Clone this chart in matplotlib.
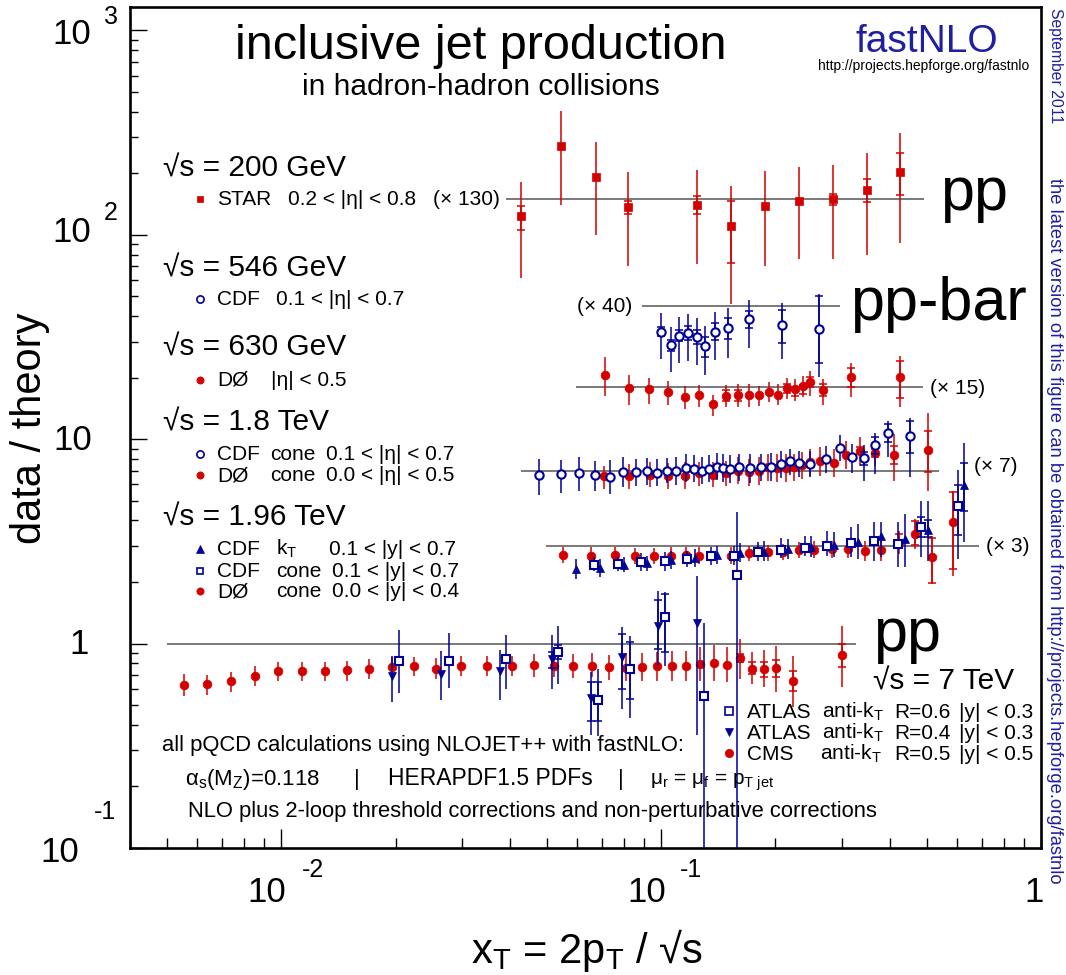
import numpy as np
import matplotlib
matplotlib.use("Agg")
import matplotlib.pyplot as plt
from matplotlib.ticker import LogLocator, NullFormatter
from matplotlib import font_manager

# ---------------- data (values as plotted on the axis) ----------------
# STAR 200 GeV (x130)
star_x = [0.0427, 0.0546, 0.0673, 0.0819, 0.1243, 0.1527, 0.1875, 0.2302, 0.2827, 0.3473, 0.4266]
star_y = [122.9, 272, 192, 137, 140, 110.7, 138.8, 146.5, 150, 166, 203]
star_hi = [181.6, 404, 285, 203, 208, 173.6, 206, 215, 220, 252, 315]
star_lo = [61.6, 140, 100, 70.5, 72, 46, 70.5, 76.3, 76.3, 79.8, 91.5]
star_shi = [138, np.nan, np.nan, 147, 155, 147, np.nan, np.nan, 158, 188, 251]
star_slo = [106, np.nan, np.nan, 126, 126, 73, np.nan, np.nan, 140, 144, 156]

# CDF 546 GeV (x40)
cdf546_x = [0.0998, 0.1060, 0.1117, 0.1179, 0.1246, 0.1307, 0.1386, 0.1502, 0.1702, 0.2078, 0.2610]
cdf546_y = [33.6, 29.0, 32.1, 32.9, 31.7, 28.7, 33.6, 34.8, 38.5, 36.2, 34.4]
cdf546_hi = [41.2, 35.5, 39.4, 41.1, 39.3, 35.9, 41.7, 44.0, 48.1, 46.1, 51.5]
cdf546_lo = [24.7, 21.2, 23.5, 24.0, 23.1, 20.7, 24.5, 25.0, 28.0, 24.8, 20.2]
cdf546_shi = [35.2, 30.6, 34.2, 35.8, 34.2, 31.5, 36.8, 39.0, 42.2, 43.0, 50.3]
cdf546_slo = [31.8, 27.1, 30.1, 30.6, 29.2, 25.3, 30.6, 30.9, 34.8, 29.4, 23.5]

# D0 630 GeV (x15)
d0630_x = [0.0712, 0.0823, 0.0930, 0.1041, 0.1154, 0.1260, 0.1372, 0.1482, 0.1592, 0.1702,
           0.1811, 0.1920, 0.2025, 0.2141, 0.2247, 0.2359, 0.2471, 0.2673, 0.3152, 0.4256]
d0630_y = [20.7, 17.7, 17.5, 17.1, 16.1, 16.4, 14.9, 16.3, 16.5, 16.4,
           16.4, 17.1, 16.5, 17.8, 17.5, 18.1, 19.0, 17.3, 20.1, 20.1]
d0630_hi = [25.1, 20.6, 19.9, 19.3, 18.1, 18.4, 16.5, 18.3, 18.6, 18.6,
            18.2, 19.1, 18.6, 19.9, 19.6, 20.4, 21.6, 19.6, 23.7, 25.6]
d0630_lo = [16.3, 14.7, 14.9, 14.7, 14.1, 14.4, 13.0, 14.3, 14.4, 14.4,
            14.5, 15.2, 14.7, 15.7, 15.4, 16.0, 16.3, 14.7, 16.1, 14.3]
d0630_shi = [np.nan] * 7 + [17.3, 17.3] + [np.nan] * 4 + [18.7, 17.9, 18.5, 20.1, 18.6, 22.3, 24.2]
d0630_slo = [np.nan] * 7 + [15.4, 15.4] + [np.nan] * 4 + [16.8, 16.3, 16.6, 17.9, 16.3, 17.9, 15.9]

# CDF 1.8 TeV cone (x7)
cdf18_x = [0.0478, 0.0544, 0.0609, 0.0671, 0.0734, 0.0795, 0.0858, 0.0919, 0.0978, 0.1039, 0.1097,
           0.1161, 0.1221, 0.1281, 0.1339, 0.1400, 0.1457, 0.1515, 0.1605, 0.1719, 0.1834, 0.1948,
           0.2074, 0.2185, 0.2312, 0.2471, 0.2716, 0.2950, 0.3185, 0.3417, 0.3661, 0.3960, 0.4520]
cdf18_y = [6.71, 6.73, 6.84, 6.65, 6.51, 6.94, 6.88, 6.96, 6.84, 7.01, 6.96,
           7.23, 7.17, 6.99, 7.15, 7.31, 7.23, 7.12, 7.28, 7.20, 7.31, 7.31,
           7.53, 7.79, 7.65, 7.56, 7.96, 9.09, 8.15, 8.06, 9.33, 10.7, 10.4]
cdf18_hi = [8.00, 7.91, 8.15, 7.79, 7.91, 8.21, 8.00, 8.09, 8.00, 8.09, 8.15,
            8.47, 8.33, 8.15, 8.33, 8.52, 8.47, 8.33, 8.47, 8.47, 8.47, 8.52,
            8.79, 8.92, 8.79, 8.79, 9.26, 10.48, 9.47, 9.33, 10.68, 12.32, 12.74]
cdf18_lo = [5.35, 5.48, 5.60, 5.56, 5.40, 5.86, 5.92, 5.99, 5.92, 6.08, 5.99,
            6.15, 6.20, 6.04, 6.18, 6.32, 6.18, 6.13, 6.27, 6.13, 6.27, 6.27,
            6.46, 6.65, 6.56, 6.51, 6.80, 7.85, 6.86, 6.27, 6.76, 8.15, 6.56]
cdf18_shi = [np.nan] * 29 + [8.62, 10.2, 11.9, 12.3]
cdf18_slo = [np.nan] * 29 + [7.50, 8.47, 9.69, 8.56]

# D0 1.8 TeV cone (x7)
d018_x = [0.0709, 0.0823, 0.0934, 0.1043, 0.1154, 0.1260, 0.1372, 0.1484, 0.1592, 0.1699, 0.1805, 0.1917,
          0.2020, 0.2129, 0.2243, 0.2354, 0.2471, 0.2626, 0.2844, 0.3064, 0.3330, 0.3650, 0.4106, 0.5051]
d018_y = [6.58, 6.63, 6.71, 6.61, 6.63, 6.80, 6.71, 6.84, 7.01, 6.88, 6.96, 7.28,
          7.20, 7.23, 7.28, 7.45, 7.76, 7.79, 7.67, 8.40, 8.72, 8.59, 8.40, 8.89]
d018_hi = [7.42, 7.56, 7.70, 7.61, 7.70, 7.70, 7.70, 7.85, 8.15, 8.00, 8.15, 8.47,
           8.47, 8.47, 8.47, 8.62, 8.96, 9.12, 8.96, 9.83, 10.2, 9.65, 10.6, 13.5]
d018_lo = [5.71, 5.71, 5.81, 5.71, 5.71, 5.92, 5.81, 5.92, 6.04, 5.92, 5.99, 6.27,
           6.15, 6.15, 6.27, 6.39, 6.63, 6.63, 6.51, 7.15, 7.42, 7.42, 6.27, 5.56]
d018_shi = [np.nan] * 20 + [9.12, 8.96, 9.28, 10.9]
d018_slo = [np.nan] * 20 + [8.47, 8.21, 7.56, 6.88]

# CDF 1.96 TeV kT (x3)
cdfkt_x = [0.05981, 0.06918, 0.07981, 0.09205, 0.10622, 0.12259, 0.14028, 0.16145, 0.18714,
           0.21541, 0.24800, 0.28571, 0.32902, 0.38019, 0.43763, 0.50410, 0.62887]
cdfkt_y = [2.319, 2.346, 2.434, 2.470, 2.566, 2.625, 2.703, 2.764, 2.818,
           2.892, 2.981, 3.025, 3.154, 3.363, 3.251, 3.597, 5.991]
cdfkt_hi = [2.595, 2.595, 2.642, 2.693, 2.828, 2.905, 3.015, 3.094, 3.164,
            3.251, 3.375, 3.502, 3.849, 3.920, 4.308, 5.005, 9.54]
cdfkt_lo = [2.072, 2.110, 2.232, 2.258, 2.319, 2.362, 2.453, 2.498, 2.546,
            2.595, 2.664, 2.664, 2.595, 2.642, 2.362, 2.546, 3.129]
cdfkt_shi = [np.nan] * 15 + [4.026, 7.61]
cdfkt_slo = [np.nan] * 15 + [3.336, 4.436]

# CDF 1.96 TeV cone (x3)
cdfcone_x = [0.06661, 0.07679, 0.08862, 0.10226, 0.11722, 0.13502, 0.15541, 0.18000,
             0.20685, 0.23877, 0.27386, 0.31658, 0.36374, 0.42048, 0.48335, 0.60299]
cdfcone_y = [2.434, 2.453, 2.518, 2.526, 2.604, 2.673, 2.693, 2.808,
             2.872, 2.938, 3.015, 3.108, 3.164, 3.073, 3.734, 4.713]
cdfcone_hi = [2.642, 2.664, 2.764, 2.796, 2.850, 2.958, 3.015, 3.129,
              3.288, 3.375, 3.569, 3.734, 3.920, 3.920, 5.005, 7.07]
cdfcone_lo = [2.258, 2.258, 2.275, 2.275, 2.362, 2.434, 2.415, 2.546,
              2.625, 2.693, 2.693, 2.642, 2.546, 2.362, 2.642, 2.595]
cdfcone_shi = [np.nan] * 14 + [4.146, 5.991]
cdfcone_slo = [np.nan] * 14 + [3.310, 3.412]

# D0 1.96 TeV cone (x3)
d0196_x = [0.05530, 0.06540, 0.07542, 0.08560, 0.09568, 0.10600, 0.11610, 0.12600, 0.15293, 0.17088, 0.19122,
           0.20989, 0.23120, 0.25320, 0.28100, 0.31012, 0.34310, 0.37960, 0.42300, 0.46610, 0.51520, 0.58750]
d0196_y = [2.715, 2.693, 2.715, 2.673, 2.673, 2.693, 2.715, 2.693, 2.693, 2.764, 2.796,
           2.818, 2.872, 2.872, 2.905, 2.905, 2.850, 2.872, 3.118, 3.439, 2.664, 3.920]
d0196_hi = [2.981, 2.958, 2.958, 2.924, 2.924, 2.958, 2.958, 2.958, 2.958, 3.015, 3.049,
            3.073, 3.129, 3.164, 3.189, 3.215, 3.189, 3.251, 3.569, 4.072, 3.375, 5.601]
d0196_lo = [2.470, 2.453, 2.470, 2.453, 2.453, 2.453, 2.470, 2.453, 2.453, 2.526, 2.546,
            2.566, 2.625, 2.625, 2.625, 2.625, 2.546, 2.526, 2.746, 2.905, 1.958, 2.150]
d0196_shi = [np.nan] * 18 + [3.439, 3.995, 3.28, 5.5]
d0196_slo = [np.nan] * 18 + [2.958, 3.049, 1.97, 2.32]

# CMS 7 TeV anti-kT R=0.5 (x1)
cms_x = [0.005540, 0.006394, 0.007392, 0.008531, 0.009820, 0.011353, 0.013071, 0.014898, 0.016990,
         0.019558, 0.022383, 0.025561, 0.029732, 0.034874, 0.040400, 0.046224, 0.052289, 0.058749,
         0.065765, 0.073046, 0.080930, 0.089147, 0.097432, 0.106880, 0.116290, 0.126370, 0.137710,
         0.148790, 0.160920, 0.173340, 0.186640, 0.200330, 0.222480, 0.299140]
cms_y = [0.630, 0.632, 0.654, 0.697, 0.738, 0.738, 0.732, 0.740, 0.752, 0.766, 0.778, 0.755,
         0.781, 0.778, 0.778, 0.783, 0.774, 0.778, 0.781, 0.766, 0.761, 0.766, 0.781, 0.774,
         0.774, 0.796, 0.801, 0.789, 0.848, 0.752, 0.752, 0.761, 0.654, 0.881]
cms_hi = [0.711, 0.705, 0.730, 0.778, 0.817, 0.817, 0.817, 0.823, 0.838, 0.864, 0.864, 0.848,
          0.874, 0.874, 0.874, 0.891, 0.874, 0.891, 0.901, 0.884, 0.897, 0.897, 0.907, 0.917,
          0.917, 0.959, 0.989, 0.967, 1.054, 0.907, 0.932, 0.978, 0.874, 1.225]
cms_lo = [0.553, 0.559, 0.581, 0.621, 0.654, 0.659, 0.654, 0.659, 0.674, 0.684, 0.695, 0.674,
          0.695, 0.695, 0.695, 0.690, 0.684, 0.680, 0.684, 0.665, 0.659, 0.659, 0.659, 0.659,
          0.659, 0.659, 0.659, 0.647, 0.672, 0.635, 0.611, 0.578, 0.488, 0.611]
cms_shi = [np.nan] * 28 + [0.891, 0.810, 0.810, 0.835, 0.732, 0.997]
cms_slo = [np.nan] * 28 + [0.810, 0.711, 0.684, 0.684, 0.589, 0.772]

# ATLAS 7 TeV anti-kT R=0.6 (x1)
atl6_x = [0.02037, 0.02760, 0.03912, 0.05356, 0.06806, 0.08276, 0.10226, 0.12942, 0.15801]
atl6_y = [0.819, 0.826, 0.838, 0.907, 0.532, 0.752, 1.345, 0.557, 2.175]
atl6_hi = [1.167, 1.123, 1.107, 1.225, 0.752, 1.094, 1.782, 1.257, 4.39]
atl6_lo = [0.571, 0.607, 0.598, 0.635, 0.355, 0.433, 0.781, 0.05, 0.05]
atl6_shi = [np.nan, np.nan, np.nan, 0.986, 0.647, 1.015, 1.75, np.nan, np.nan]
atl6_slo = [np.nan, np.nan, np.nan, 0.842, 0.420, 0.537, 0.907, np.nan, np.nan]

# ATLAS 7 TeV anti-kT R=0.4 (x1)
atl4_x = [0.019558, 0.02641, 0.03756, 0.05153, 0.06524, 0.07902, 0.09820, 0.12458]
atl4_y = [0.697, 0.711, 0.732, 0.842, 0.543, 0.864, 1.225, 1.257]
atl4_hi = [0.874, 0.917, 0.932, 1.107, 0.724, 1.201, 1.816, 2.15]
atl4_lo = [0.516, 0.530, 0.530, 0.601, 0.359, 0.479, 0.781, 0.359]
atl4_shi = [np.nan, np.nan, np.nan, 0.907, 0.647, 1.115, 1.636, np.nan]
atl4_slo = [np.nan, np.nan, np.nan, 0.761, 0.420, 0.600, 0.942, np.nan]

# reference (theory) lines: level and x-range
ref_level = [148.8, 44.6, 17.9, 7.0, 3.0, 1.0]
ref_xmin = [0.03896, 0.0892, 0.0596, 0.04273, 0.04970, 0.005012]
ref_xmax = [0.4930, 0.2951, 0.4900, 0.5390, 0.6863, 0.3255]
scale_labels = ["(× 130)", "(× 40)", "(× 15)", "(× 7)", "(× 3)"]

# ---------------- styling ----------------
W, H = 1066, 975
RED = "#d40000"
BLUE = "#000096"
TBLUE = "#1f1fa5"
FAM = ["Liberation Sans", "DejaVu Sans"]
plt.rcParams["font.family"] = FAM
plt.rcParams["mathtext.fontset"] = "custom"
plt.rcParams["mathtext.rm"] = "Liberation Sans"
plt.rcParams["mathtext.it"] = "Liberation Sans:italic"
plt.rcParams["mathtext.bf"] = "Liberation Sans:bold"

names = {f.name for f in font_manager.fontManager.ttflist}
NARROW = "Liberation Sans Narrow" if "Liberation Sans Narrow" in names else None

fig = plt.figure(figsize=(W / 100, H / 100), dpi=100)
L, R, T, B = 130, 1041, 7, 848
ax = fig.add_axes([L / W, 1 - B / H, (R - L) / W, (B - T) / H])
ax.set_xscale("log")
ax.set_yscale("log")
ax.set_xlim(0.004, 1.0)
ax.set_ylim(0.1, 1300)
for s in ax.spines.values():
    s.set_linewidth(1.9)
ax.xaxis.set_major_locator(LogLocator(base=10, numticks=50))
ax.yaxis.set_major_locator(LogLocator(base=10, numticks=50))
ax.xaxis.set_minor_locator(LogLocator(base=10, subs=np.arange(2, 10), numticks=100))
ax.yaxis.set_minor_locator(LogLocator(base=10, subs=np.arange(2, 10), numticks=100))
ax.xaxis.set_minor_formatter(NullFormatter())
ax.yaxis.set_minor_formatter(NullFormatter())
ax.tick_params(which="both", direction="in", top=False, right=False,
               labelbottom=False, labelleft=False, width=1.0)
ax.tick_params(axis="x", which="major", length=14)
ax.tick_params(axis="x", which="minor", length=7.5)
ax.tick_params(axis="y", which="major", length=12)
ax.tick_params(axis="y", which="minor", length=6)


def ft(xp, yp, s, **kw):
    return fig.text(xp / W, 1 - yp / H, s, **kw)


# reference lines
for lev, x0, x1 in zip(ref_level, ref_xmin, ref_xmax):
    ax.hlines(lev, x0, x1, colors="#6e6e6e", linewidth=1.3, zorder=1)


def draw(x, y, lo, hi, slo, shi, color, marker, ms, filled, z=3):
    x = np.asarray(x, float); y = np.asarray(y, float)
    lo = np.asarray(lo, float); hi = np.asarray(hi, float)
    ax.errorbar(x, y, yerr=[y - lo, hi - y], fmt="none", ecolor=color,
                elinewidth=1.3, capsize=0, alpha=0.85, zorder=z)
    slo = np.asarray(slo, float); shi = np.asarray(shi, float)
    m = ~np.isnan(slo)
    if m.any():
        ax.errorbar(x[m], y[m], yerr=[y[m] - slo[m], shi[m] - y[m]], fmt="none",
                    ecolor=color, elinewidth=1.3, capsize=3.2, capthick=1.3,
                    alpha=0.85, zorder=z)
    ax.plot(x, y, ls="none", marker=marker, ms=ms,
            mfc=color if filled else "white", mec=color,
            mew=1.5 if not filled else 0.5, zorder=z + 1)


draw(star_x, star_y, star_lo, star_hi, star_slo, star_shi, RED, "s", 5.6, True)
draw(cdf546_x, cdf546_y, cdf546_lo, cdf546_hi, cdf546_slo, cdf546_shi, BLUE, "o", 6.0, False)
draw(d0630_x, d0630_y, d0630_lo, d0630_hi, d0630_slo, d0630_shi, RED, "o", 6.3, True)
draw(d018_x, d018_y, d018_lo, d018_hi, d018_slo, d018_shi, RED, "o", 6.3, True, z=3)
draw(cdf18_x, cdf18_y, cdf18_lo, cdf18_hi, cdf18_slo, cdf18_shi, BLUE, "o", 6.0, False, z=5)
draw(d0196_x, d0196_y, d0196_lo, d0196_hi, d0196_slo, d0196_shi, RED, "o", 6.3, True, z=3)
draw(cdfkt_x, cdfkt_y, cdfkt_lo, cdfkt_hi, cdfkt_slo, cdfkt_shi, BLUE, "^", 6.3, True, z=5)
draw(cdfcone_x, cdfcone_y, cdfcone_lo, cdfcone_hi, cdfcone_slo, cdfcone_shi, BLUE, "s", 5.4, False, z=5)
draw(cms_x, cms_y, cms_lo, cms_hi, cms_slo, cms_shi, RED, "o", 6.3, True, z=3)
draw(atl4_x, atl4_y, atl4_lo, atl4_hi, atl4_slo, atl4_shi, BLUE, "v", 6.3, True, z=5)
draw(atl6_x, atl6_y, atl6_lo, atl6_hi, atl6_slo, atl6_shi, BLUE, "s", 5.4, False, z=5)

# ---------------- tick labels (ROOT style) ----------------
TL = 25
EX = 18
ft(91, 35, "10", fontsize=TL, ha="right", va="center")
ft(104, 17, "3", fontsize=EX, ha="left", va="center")
ft(91, 232, "10", fontsize=TL, ha="right", va="center")
ft(104, 213, "2", fontsize=EX, ha="left", va="center")
ft(92, 440, "10", fontsize=TL, ha="right", va="center")
ft(89, 644, "1", fontsize=TL, ha="right", va="center")
ft(79, 853, "10", fontsize=TL, ha="right", va="center")
ft(94, 812, "-1", fontsize=EX, ha="left", va="center")
ft(267, 893, "10", fontsize=TL, ha="center", va="center")
ft(302, 870, "-2", fontsize=EX, ha="left", va="center")
ft(647, 893, "10", fontsize=TL, ha="center", va="center")
ft(680, 870, "-1", fontsize=EX, ha="left", va="center")
ft(1034, 893, "1", fontsize=TL, ha="center", va="center")

ft(587, 963, r"x$_{\rm T}$ = 2p$_{\rm T}$ / √s", fontsize=30, ha="center", va="baseline")
ft(30, 428, "data / theory", fontsize=30, ha="center", va="center", rotation=90)

# ---------------- titles ----------------
ft(481, 59, "inclusive jet production", fontsize=35, ha="center", va="baseline")
ft(481, 95, "in hadron-hadron collisions", fontsize=21.5, ha="center", va="baseline")
ft(927, 52, "fastNLO", fontsize=28, ha="center", va="baseline", color=TBLUE)
ft(924, 70, "http://projects.hepforge.org/fastnlo", fontsize=10, ha="center", va="baseline")
ft(1055, 8, "September 2011", fontsize=11.3, ha="center", va="top", rotation=270, color=TBLUE)
ft(1055, 178, "the latest version of this figure can be obtained from http://projects.hepforge.org/fastnlo",
   fontsize=13.2, ha="center", va="top", rotation=270, color=TBLUE)

# big collision labels
if NARROW:
    bigkw = dict(fontsize=52, family=[NARROW, "Liberation Sans"])
else:
    bigkw = dict(fontsize=44)
ft(940, 210, "pp", ha="left", va="baseline", **bigkw)
ft(850, 320, "pp-bar", ha="left", va="baseline", **bigkw)
ft(873, 651, "pp", ha="left", va="baseline", **bigkw)
ft(873, 690, "√s = 7 TeV", fontsize=21.5, ha="left", va="baseline")

# scale factor labels
SF = 15
ft(433, 200, scale_labels[0], fontsize=SF, ha="left", va="center")
ft(577, 306, scale_labels[1], fontsize=SF, ha="left", va="center")
ft(930, 389, scale_labels[2], fontsize=SF, ha="left", va="center")
ft(974, 467, scale_labels[3], fontsize=SF, ha="left", va="center")
ft(986, 547, scale_labels[4], fontsize=SF, ha="left", va="center")

# ---------------- left legend ----------------
HF = 21.5
EF = 15
headers = [(177, "√s = 200 GeV"), (277, "√s = 546 GeV"), (356, "√s = 630 GeV"),
           (431, "√s = 1.8 TeV"), (526, "√s = 1.96 TeV")]
for yb, s in headers:
    ft(163, yb, s, fontsize=HF, ha="left", va="baseline")


def lmark(xp, yp, marker, color, filled, ms=5.0):
    fig.add_artist(plt.Line2D([xp / W], [1 - yp / H], transform=fig.transFigure,
                              marker=marker, ms=ms, ls="none",
                              mfc=color if filled else "white", mec=color,
                              mew=1.2 if not filled else 0.5))


entries = [
    (205, "s", RED, True, [(217, "STAR"), (288, "0.2 < |η| < 0.8")]),
    (305, "o", BLUE, False, [(217, "CDF"), (276, "0.1 < |η| < 0.7")]),
    (386, "o", RED, True, [(217, "DØ"), (271, "|η| < 0.5")]),
    (460, "o", BLUE, False, [(217, "CDF"), (270, "cone"), (326, "0.1 < |η| < 0.7")]),
    (481, "o", RED, True, [(217, "DØ"), (270, "cone"), (326, "0.0 < |η| < 0.5")]),
    (555, "^", BLUE, True, [(217, "CDF"), (276, r"k$_{\rm T}$"), (329, "0.1 < |y| < 0.7")]),
    (577, "s", BLUE, False, [(217, "CDF"), (276, "cone"), (332, "0.1 < |y| < 0.7")]),
    (597, "o", RED, True, [(217, "DØ"), (276, "cone"), (332, "0.0 < |y| < 0.4")]),
]
for yb, mk, col, fil, parts in entries:
    lmark(200, yb - 6, mk, col, fil, ms=5.2 if mk != "s" else 5.0)
    for xp, s in parts:
        ft(xp, yb, s, fontsize=EF, ha="left", va="baseline")

# ---------------- 7 TeV legend ----------------
r7 = [
    (718, "s", BLUE, False, "ATLAS", 822, "R=0.6", "|y| < 0.3"),
    (739, "v", BLUE, True, "ATLAS", 822, "R=0.4", "|y| < 0.3"),
    (760, "o", RED, True, "CMS", 820, "R=0.5", "|y| < 0.5"),
]
for yb, mk, col, fil, name, xa, rr, yy in r7:
    lmark(729, yb - 7, mk, col, fil, ms=6.0 if mk != "s" else 5.6)
    ft(747, yb, name, fontsize=EF, ha="left", va="baseline")
    ft(xa, yb, r"anti-k$_{\rm T}$", fontsize=EF, ha="left", va="baseline")
    ft(894, yb, rr, fontsize=EF, ha="left", va="baseline")
    ft(959, yb, yy, fontsize=EF, ha="left", va="baseline")

# ---------------- bottom notes ----------------
NF = 15.8
ft(162, 751, "all pQCD calculations using NLOJET++ with fastNLO:", fontsize=NF, ha="left", va="baseline")
ft(185, 785, r"α$_{\rm s}$(M$_{\rm Z}$)=0.118", fontsize=16, ha="left", va="baseline")
ft(354, 785, "|", fontsize=16, ha="left", va="baseline")
ft(388, 785, "HERAPDF1.5 PDFs", fontsize=16.5, ha="left", va="baseline")
ft(618, 785, "|", fontsize=16, ha="left", va="baseline")
ft(650, 785, r"μ$_{\rm r}$ = μ$_{\rm f}$ = p$_{\rm T\ jet}$", fontsize=15, ha="left", va="baseline")
ft(188, 817, "NLO plus 2-loop threshold corrections and non-perturbative corrections",
   fontsize=NF, ha="left", va="baseline")

fig.savefig("out.png", dpi=100)
